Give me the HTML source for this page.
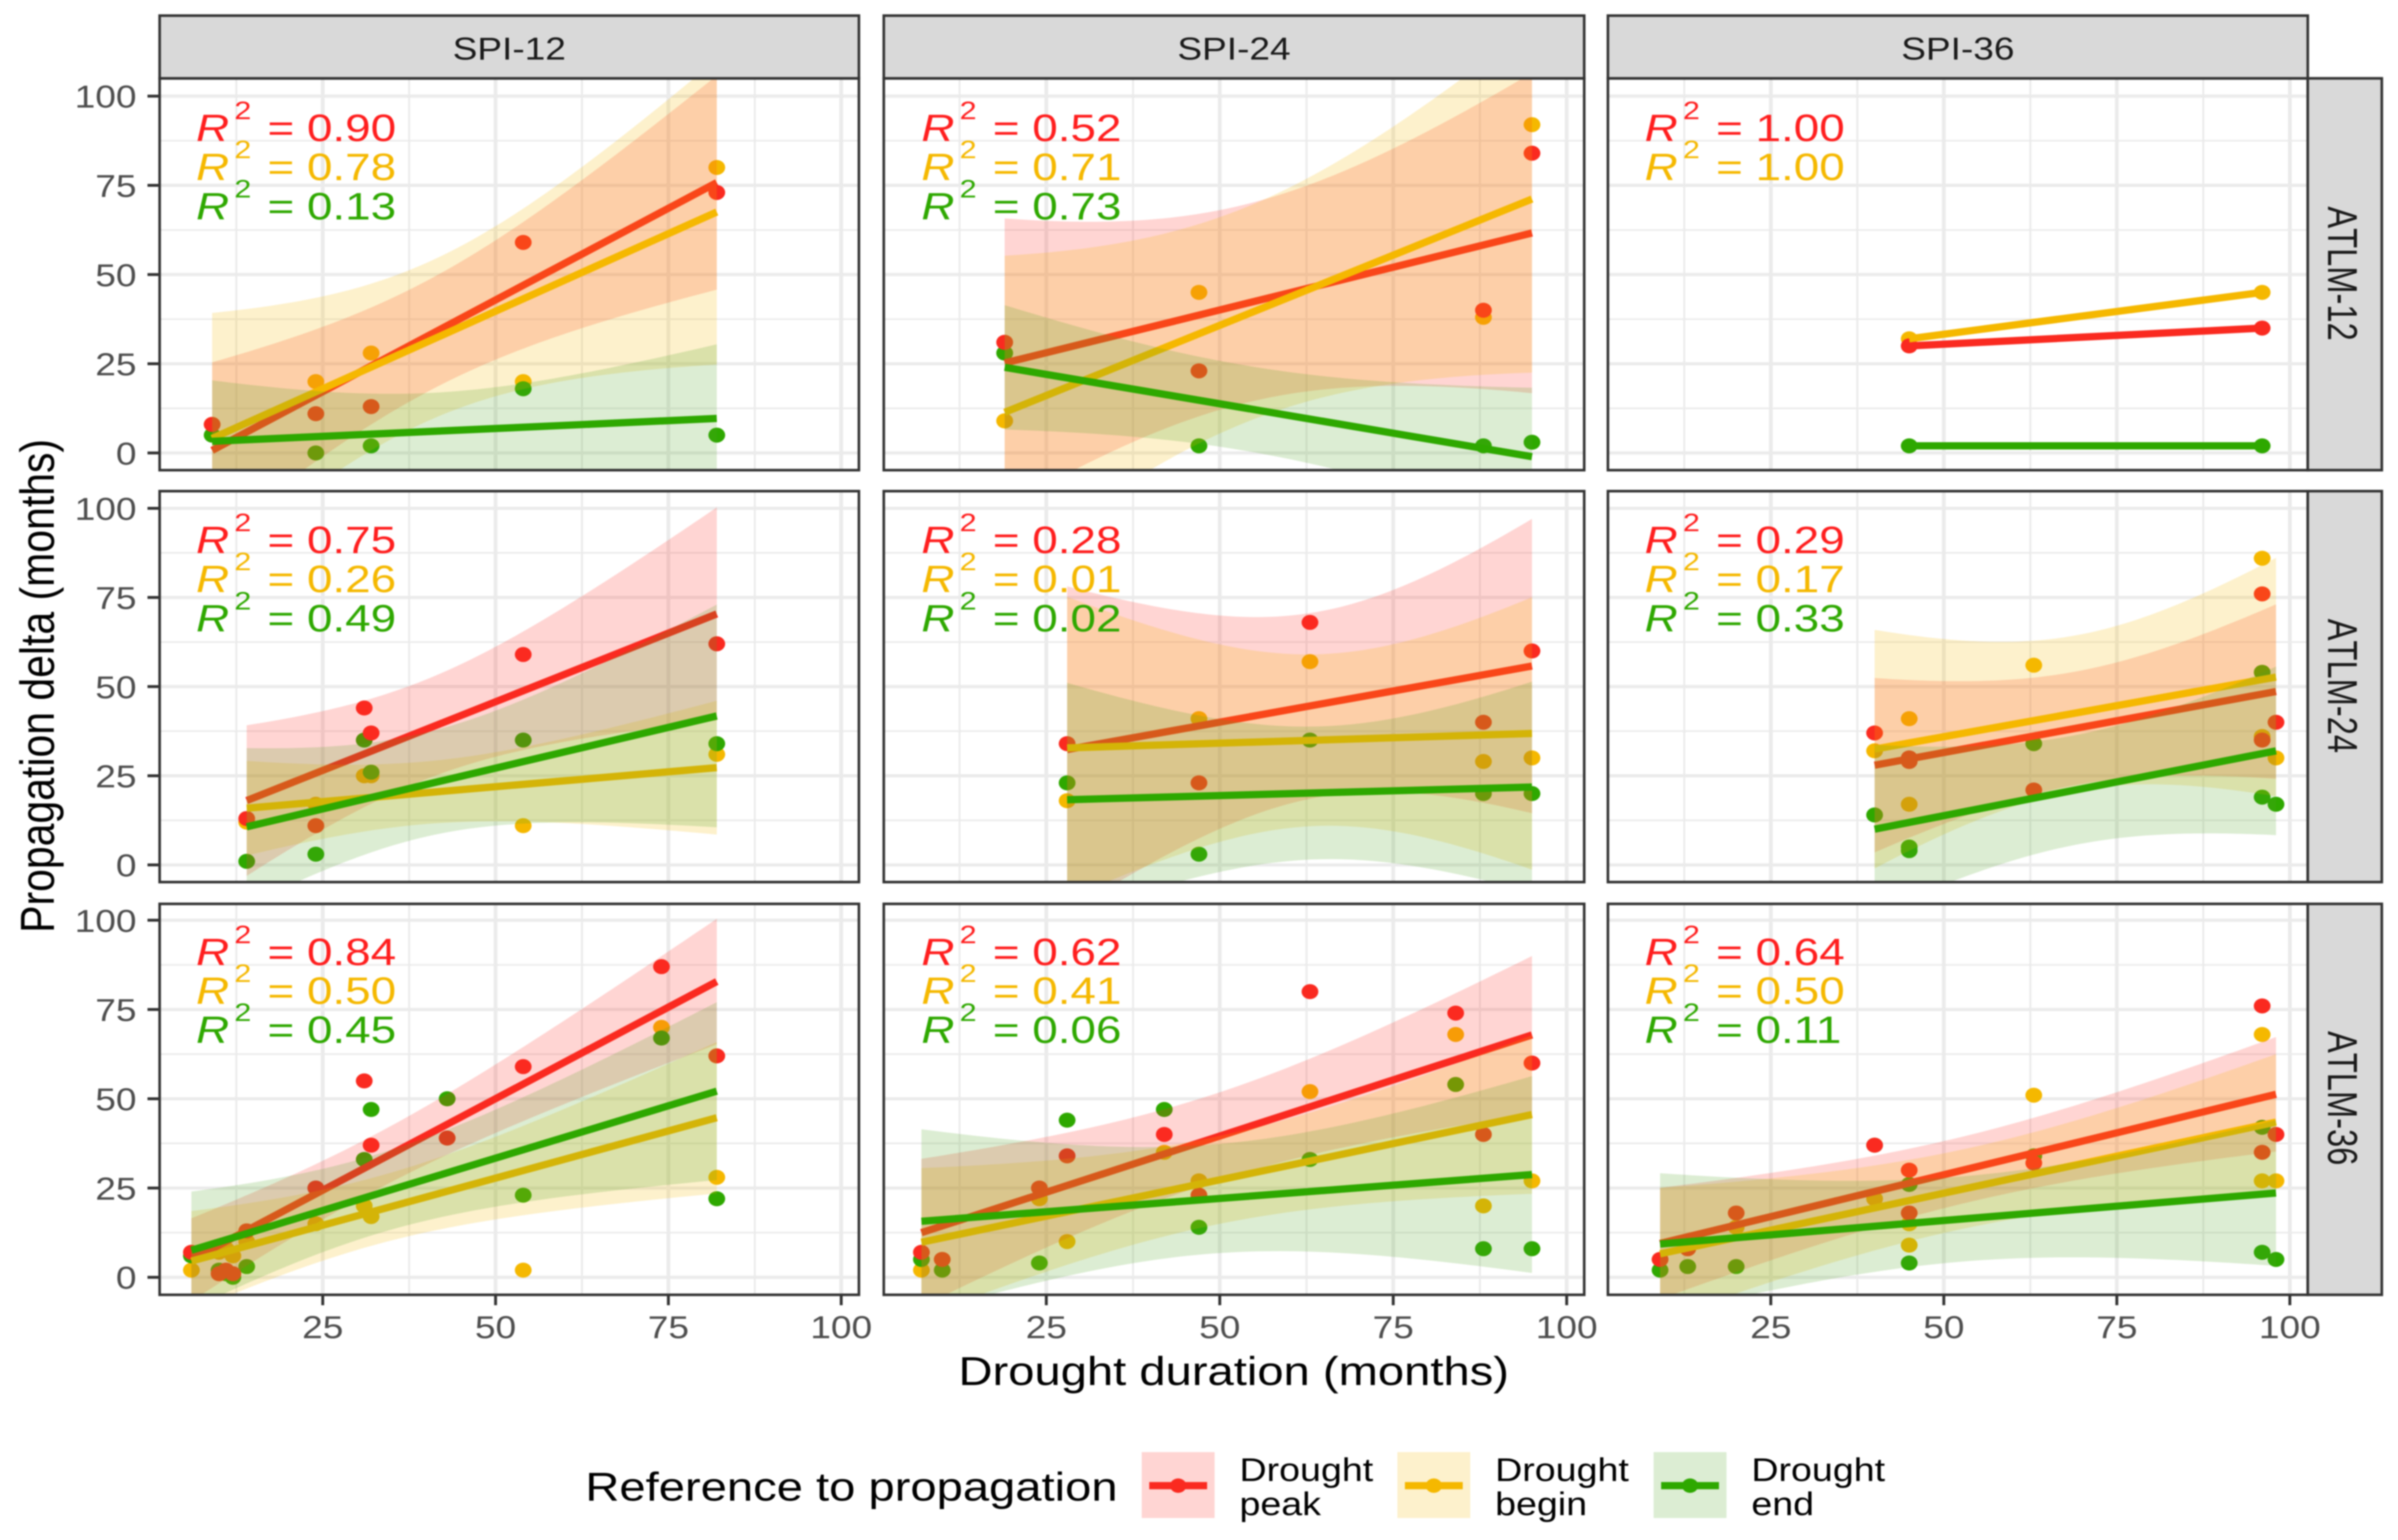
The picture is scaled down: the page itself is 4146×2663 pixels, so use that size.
<!DOCTYPE html>
<html lang="en">
<head>
<meta charset="utf-8">
<title>Propagation delta vs drought duration</title>
<style>
html,body{margin:0;padding:0;background:#fff;}
svg{display:block;filter:blur(1.2px);}
text{font-family:"Liberation Sans",Arial,sans-serif;white-space:pre;}
</style>
</head>
<body>
<svg id="chart" xmlns="http://www.w3.org/2000/svg" width="4146" height="2663" viewBox="0 0 4146 2663">
  <rect x="0" y="0" width="4146" height="2663" fill="#ffffff"/>
  <g id="panels"></g>

  <g>
    <rect x="276" y="27" width="1209" height="108.5" fill="#d9d9d9" stroke="#333" stroke-width="4.5"/>
    <rect x="1528" y="27" width="1211" height="108.5" fill="#d9d9d9" stroke="#333" stroke-width="4.5"/>
    <rect x="2780" y="27" width="1210" height="108.5" fill="#d9d9d9" stroke="#333" stroke-width="4.5"/>
    <text transform="translate(880.5,103) scale(1.165,1)" font-size="55" text-anchor="middle" fill="#1a1a1a">SPI-12</text>
    <text transform="translate(2133.5,103) scale(1.165,1)" font-size="55" text-anchor="middle" fill="#1a1a1a">SPI-24</text>
    <text transform="translate(3385,103) scale(1.165,1)" font-size="55" text-anchor="middle" fill="#1a1a1a">SPI-36</text>
  </g>

  <g>
    <rect x="3990" y="135.5" width="128" height="677.5" fill="#d9d9d9" stroke="#333" stroke-width="4.5"/>
    <rect x="3990" y="849.3" width="128" height="676" fill="#d9d9d9" stroke="#333" stroke-width="4.5"/>
    <rect x="3990" y="1563" width="128" height="676" fill="#d9d9d9" stroke="#333" stroke-width="4.5"/>
    <text transform="translate(4025,473) scale(1.28,1) rotate(90)" font-size="56.5" text-anchor="middle" fill="#1a1a1a" style="font-kerning:none">ATLM-12</text>
    <text transform="translate(4025,1186) scale(1.28,1) rotate(90)" font-size="56.5" text-anchor="middle" fill="#1a1a1a" style="font-kerning:none">ATLM-24</text>
    <text transform="translate(4025,1899) scale(1.28,1) rotate(90)" font-size="56.5" text-anchor="middle" fill="#1a1a1a" style="font-kerning:none">ATLM-36</text>
  </g>

  <text transform="translate(93,1186) scale(1.165,1) rotate(-90)" font-size="70.8" text-anchor="middle" fill="#000">Propagation delta (months)</text>
  <text transform="translate(2133,2395) scale(1.165,1)" font-size="70" text-anchor="middle" fill="#000">Drought duration (months)</text>

  <g>
    <text transform="translate(1012,2595) scale(1.165,1)" font-size="70" fill="#000">Reference to propagation</text>

    <g>
      <rect x="1974" y="2511" width="126" height="114" fill="#FF2D23" fill-opacity="0.2"/>
      <line x1="1987" x2="2087" y1="2569" y2="2569" stroke="#FA2A20" stroke-width="12.6"/>
      <ellipse cx="2037" cy="2569" rx="14" ry="12.5" fill="#FA2A20"/>
      <text transform="translate(2143,2561) scale(1.14,1)" font-size="57" fill="#000">Drought</text>
      <text transform="translate(2143,2620) scale(1.14,1)" font-size="57" fill="#000">peak</text>
    </g>
    <g>
      <rect x="2416" y="2511" width="126" height="114" fill="#F5B800" fill-opacity="0.2"/>
      <line x1="2429" x2="2529" y1="2569" y2="2569" stroke="#F5B800" stroke-width="12.6"/>
      <ellipse cx="2479" cy="2569" rx="14" ry="12.5" fill="#F5B800"/>
      <text transform="translate(2585,2561) scale(1.14,1)" font-size="57" fill="#000">Drought</text>
      <text transform="translate(2585,2620) scale(1.14,1)" font-size="57" fill="#000">begin</text>
    </g>
    <g>
      <rect x="2859" y="2511" width="126" height="114" fill="#50A523" fill-opacity="0.2"/>
      <line x1="2872" x2="2972" y1="2569" y2="2569" stroke="#2EA800" stroke-width="12.6"/>
      <ellipse cx="2922" cy="2569" rx="14" ry="12.5" fill="#2EA800"/>
      <text transform="translate(3028,2561) scale(1.14,1)" font-size="57" fill="#000">Drought</text>
      <text transform="translate(3028,2620) scale(1.14,1)" font-size="57" fill="#000">end</text>
    </g>
  </g>
</svg>

<script>
/* ---- tick labels ---- */
const xTicks = [25, 50, 75, 100];
const xMinorTicks = [12.5, 37.5, 62.5, 87.5];
const yTicks = [0, 25, 50, 75, 100];
const yMinorTicks = [12.5, 37.5, 62.5, 87.5];

/* ---- data: drought duration and propagation delta per panel ---- */
const a12s12_x = [9, 24, 32, 54, 82];
const a12s12_peak = [8, 11, 13, 59, 73];
const a12s12_begin = [8, 20, 28, 20, 80];
const a12s12_end = [5, 0, 2, 18, 5];
const a12s12_r2 = ["0.90", "0.78", "0.13"];

const a12s24_x = [19, 19, 47, 88, 95];
const a12s24_peak = [31, 31, 23, 40, 84];
const a12s24_begin = [9, 9, 45, 38, 92];
const a12s24_end = [28, 28, 2, 2, 3];
const a12s24_r2 = ["0.52", "0.71", "0.73"];

const a12s36_x = [45, 96];
const a12s36_peak = [30, 35];
const a12s36_begin = [32, 45];
const a12s36_end = [2, 2];
const a12s36_r2 = ["1.00", "1.00"];

const a24s12_x = [14, 24, 31, 32, 54, 82];
const a24s12_peak = [13, 11, 44, 37, 59, 62];
const a24s12_begin = [12, 17, 25, 25, 11, 31];
const a24s12_end = [1, 3, 35, 26, 35, 34];
const a24s12_r2 = ["0.75", "0.26", "0.49"];

const a24s24_x = [28, 47, 63, 88, 95];
const a24s24_peak = [34, 23, 68, 40, 60];
const a24s24_begin = [18, 41, 57, 29, 30];
const a24s24_end = [23, 3, 35, 20, 20];
const a24s24_r2 = ["0.28", "0.01", "0.02"];

const a24s36_x = [40, 45, 45, 63, 96, 96, 98];
const a24s36_peak = [37, 30, 29, 21, 76, 35, 40];
const a24s36_begin = [32, 41, 17, 56, 86, 36, 30];
const a24s36_end = [14, 5, 4, 34, 54, 19, 17];
const a24s36_r2 = ["0.29", "0.17", "0.33"];

const a36s12_x = [6, 10, 11, 12, 14, 24, 31, 32, 43, 54, 74, 82];
const a36s12_peak = [7, 1, 2, 1, 13, 25, 55, 37, 39, 59, 87, 62];
const a36s12_begin = [2, 7, 8, 6, 10, 15, 20, 17, 39, 2, 70, 28];
const a36s12_end = [6, 2, 1, 0, 3, 25, 33, 47, 50, 23, 67, 22];
const a36s12_r2 = ["0.84", "0.50", "0.45"];

const a36s24_x = [7, 10, 24, 28, 42, 47, 63, 84, 88, 95];
const a36s24_peak = [7, 5, 25, 34, 40, 23, 80, 74, 40, 60];
const a36s24_begin = [2, 5, 22, 10, 35, 27, 52, 68, 20, 27];
const a36s24_end = [5, 2, 4, 44, 47, 14, 33, 54, 8, 8];
const a36s24_r2 = ["0.62", "0.41", "0.06"];

const a36s36_x = [9, 13, 20, 40, 45, 45, 63, 96, 96, 98];
const a36s36_peak = [5, 8, 18, 37, 30, 18, 32, 76, 35, 40];
const a36s36_begin = [5, 8, 14, 22, 15, 9, 51, 68, 27, 27];
const a36s36_end = [2, 3, 3, 37, 26, 4, 34, 42, 7, 5];
const a36s36_r2 = ["0.64", "0.50", "0.11"];

/* 0.975 Student-t quantiles, indexed by residual degrees of freedom */
const tQuantiles = [0, 12.706, 4.303, 3.182, 2.776, 2.571, 2.447, 2.365, 2.306, 2.262, 2.228, 2.201, 2.179, 2.160, 2.145, 2.131];

const panelsByRow = [
  [
    {x: a12s12_x, peak: a12s12_peak, begin: a12s12_begin, end: a12s12_end, r2: a12s12_r2, name: "atlm-12-spi-12"},
    {x: a12s24_x, peak: a12s24_peak, begin: a12s24_begin, end: a12s24_end, r2: a12s24_r2, name: "atlm-12-spi-24"},
    {x: a12s36_x, peak: a12s36_peak, begin: a12s36_begin, end: a12s36_end, r2: a12s36_r2, name: "atlm-12-spi-36"}
  ],
  [
    {x: a24s12_x, peak: a24s12_peak, begin: a24s12_begin, end: a24s12_end, r2: a24s12_r2, name: "atlm-24-spi-12"},
    {x: a24s24_x, peak: a24s24_peak, begin: a24s24_begin, end: a24s24_end, r2: a24s24_r2, name: "atlm-24-spi-24"},
    {x: a24s36_x, peak: a24s36_peak, begin: a24s36_begin, end: a24s36_end, r2: a24s36_r2, name: "atlm-24-spi-36"}
  ],
  [
    {x: a36s12_x, peak: a36s12_peak, begin: a36s12_begin, end: a36s12_end, r2: a36s12_r2, name: "atlm-36-spi-12"},
    {x: a36s24_x, peak: a36s24_peak, begin: a36s24_begin, end: a36s24_end, r2: a36s24_r2, name: "atlm-36-spi-24"},
    {x: a36s36_x, peak: a36s36_peak, begin: a36s36_begin, end: a36s36_end, r2: a36s36_r2, name: "atlm-36-spi-36"}
  ]
];

/* ---- layout (not data) ---- */
const colLayout = [
  {left: 276, right: 1485, x25: 558, x100: 1454.4},
  {left: 1528, right: 2739, x25: 1809, x100: 2708.7},
  {left: 2780, right: 3990, x25: 3061.6, x100: 3959}
];
const rowLayout = [
  {top: 135.5, bottom: 813, y0: 783.3, y100: 166.2, r2: [244, 311.5, 379.6]},
  {top: 849.3, bottom: 1525.3, y0: 1495.6, y100: 879, r2: [956.4, 1024, 1092]},
  {top: 1563, bottom: 2239, y0: 2208.7, y100: 1591.3, r2: [1669, 1736, 1803.5]}
];
const r2Left = [339, 1593, 2843.5];
const seriesColors = {peak: "#FA2A20", begin: "#F5B800", end: "#2EA800"};
const bandColors = {peak: "#FF2D23", begin: "#F5B800", end: "#50A523"};
const r2Colors = ["#FF1E1E", "#F5B800", "#2EA800"];
const r2Keys = ["peak", "begin", "end"];
const pointOrder = ["begin", "end", "peak"];
const smoothOrder = ["peak", "begin", "end"];

const NS = "http://www.w3.org/2000/svg";
function mk(tag, attrs, parent) {
  const el = document.createElementNS(NS, tag);
  for (const k in attrs) el.setAttribute(k, attrs[k]);
  if (parent) parent.appendChild(el);
  return el;
}
function xScale(col, v) {
  const c = colLayout[col];
  return c.x25 + (v - 25) * (c.x100 - c.x25) / 75;
}
function yScale(row, v) {
  const r = rowLayout[row];
  return r.y0 + v * (r.y100 - r.y0) / 100;
}
function linearFit(xs, ys) {
  const n = xs.length;
  let mx = 0, my = 0;
  for (let i = 0; i < n; i++) { mx += xs[i]; my += ys[i]; }
  mx /= n; my /= n;
  let sxx = 0, sxy = 0;
  for (let i = 0; i < n; i++) { sxx += (xs[i] - mx) * (xs[i] - mx); sxy += (xs[i] - mx) * (ys[i] - my); }
  const slope = sxy / sxx;
  const intercept = my - slope * mx;
  let rss = 0;
  for (let i = 0; i < n; i++) { const e = ys[i] - (intercept + slope * xs[i]); rss += e * e; }
  const df = n - 2;
  const sigma = df > 0 ? Math.sqrt(rss / df) : 0;
  const t = df > 0 ? (tQuantiles[df] || 2.0) : 0;
  return {
    predict: function (x) { return intercept + slope * x; },
    halfWidth: function (x) { return t * sigma * Math.sqrt(1 / n + (x - mx) * (x - mx) / sxx); },
    hasBand: df > 0
  };
}

const root = document.getElementById("panels");

panelsByRow.forEach(function (rowPanels, row) {
  rowPanels.forEach(function (panel, col) {
    const c = colLayout[col], r = rowLayout[row];
    const g = mk("g", {}, root);
    
    

    const clipId = "clip-" + panel.name;
    const clip = mk("clipPath", {id: clipId}, g);
    mk("rect", {x: c.left, y: r.top, width: c.right - c.left, height: r.bottom - r.top}, clip);

    const bg = mk("rect", {x: c.left, y: r.top, width: c.right - c.left, height: r.bottom - r.top, fill: "#fff"}, g);
    
    

    const inner = mk("g", {"clip-path": "url(#" + clipId + ")"}, g);
    
    

    yMinorTicks.forEach(function (v) {
      const l = mk("line", {x1: c.left, x2: c.right, y1: yScale(row, v), y2: yScale(row, v), stroke: "#ebebeb", "stroke-width": 2.8}, inner);
      
      
    });
    xMinorTicks.forEach(function (v) {
      const l = mk("line", {x1: xScale(col, v), x2: xScale(col, v), y1: r.top, y2: r.bottom, stroke: "#ebebeb", "stroke-width": 3.4}, inner);
      
      
    });
    yTicks.forEach(function (v) {
      const l = mk("line", {x1: c.left, x2: c.right, y1: yScale(row, v), y2: yScale(row, v), stroke: "#ebebeb", "stroke-width": 5.5}, inner);
      
      
    });
    xTicks.forEach(function (v) {
      const l = mk("line", {x1: xScale(col, v), x2: xScale(col, v), y1: r.top, y2: r.bottom, stroke: "#ebebeb", "stroke-width": 6.5}, inner);
      
      
    });

    /* points under the smooths */
    pointOrder.forEach(function (key) {
      panel.x.forEach(function (xv, i) {
        const p = mk("ellipse", {cx: xScale(col, xv), cy: yScale(row, panel[key][i]), rx: 14.5, ry: 13, fill: seriesColors[key]}, inner);
        
        
      });
    });

    /* ribbon + line per series */
    smoothOrder.forEach(function (key) {
      const fit = linearFit(panel.x, panel[key]);
      const xMin = Math.min.apply(null, panel.x), xMax = Math.max.apply(null, panel.x);
      const steps = 80;
      if (fit.hasBand) {
        let upper = [], lower = [];
        for (let i = 0; i <= steps; i++) {
          const xv = xMin + (xMax - xMin) * i / steps;
          const h = fit.halfWidth(xv), m = fit.predict(xv);
          upper.push(xScale(col, xv).toFixed(1) + "," + yScale(row, m + h).toFixed(1));
          lower.unshift(xScale(col, xv).toFixed(1) + "," + yScale(row, m - h).toFixed(1));
        }
        const band = mk("polygon", {points: upper.concat(lower).join(" "), fill: bandColors[key], "fill-opacity": 0.2}, inner);
        
        
      }
      const line = mk("line", {
        x1: xScale(col, xMin), y1: yScale(row, fit.predict(xMin)),
        x2: xScale(col, xMax), y2: yScale(row, fit.predict(xMax)),
        stroke: seriesColors[key], "stroke-width": 12.6
      }, inner);
      
      
    });

    /* R-squared annotations */
    panel.r2.forEach(function (val, i) {
      const t = mk("text", {
        transform: "translate(" + r2Left[col] + "," + r.r2[i] + ") scale(1.2,1)",
        "font-size": 66, fill: r2Colors[i]
      }, g);
      
      
      const a = mk("tspan", {"font-style": "italic"}, t);
      a.textContent = "R";
      const b = mk("tspan", {dx: 7.5, dy: -38, "font-size": 44}, t);
      b.textContent = "2";
      const d = mk("tspan", {dx: 5, dy: 38}, t);
      d.textContent = " = " + val;
    });

    const border = mk("rect", {x: c.left, y: r.top, width: c.right - c.left, height: r.bottom - r.top, fill: "none", stroke: "#333", "stroke-width": 4.5}, g);
    
    

    /* y axis on first column */
    if (col === 0) {
      yTicks.forEach(function (v) {
        const tk = mk("line", {x1: 255, x2: c.left, y1: yScale(row, v), y2: yScale(row, v), stroke: "#333", "stroke-width": 5}, g);
        
        
        const lb = mk("text", {
          transform: "translate(236," + (yScale(row, v) + 20) + ") scale(1.165,1)",
          "font-size": 55, "text-anchor": "end", fill: "#4d4d4d"
        }, g);
        
        
        lb.textContent = String(v);
      });
    }
    /* x axis on bottom row */
    if (row === 2) {
      xTicks.forEach(function (v) {
        const tk = mk("line", {x1: xScale(col, v), x2: xScale(col, v), y1: r.bottom, y2: r.bottom + 18, stroke: "#333", "stroke-width": 5}, g);
        
        
        const lb = mk("text", {
          transform: "translate(" + xScale(col, v) + ",2314) scale(1.165,1)",
          "font-size": 55, "text-anchor": "middle", fill: "#4d4d4d"
        }, g);
        
        
        lb.textContent = String(v);
      });
    }
  });
});
</script>
</body>
</html>
